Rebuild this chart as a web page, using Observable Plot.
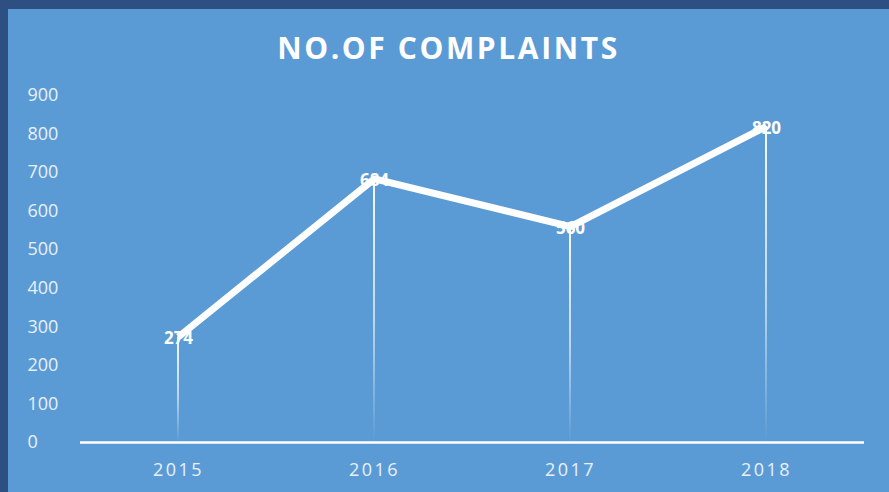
<!DOCTYPE html>
<html>
<head>
<meta charset="utf-8">
<script src="https://cdn.jsdelivr.net/npm/d3@7"></script>
<script src="https://cdn.jsdelivr.net/npm/@observablehq/plot@0.6"></script>
<style>
  html, body { margin: 0; padding: 0; }
  body { width: 889px; height: 492px; background: #2d4f82; position: relative; overflow: hidden; }
  #panel { position: absolute; left: 8px; top: 9px; width: 881px; height: 483px; background: #5b9bd5; }
  #title { position: absolute; left: 0; top: 20px; width: 881px; text-align: center;
           font-family: "Open Sans", sans-serif; font-weight: 700; font-size: 30px; letter-spacing: 2.6px;
           color: #ffffff; line-height: 38px; }
  #chart { position: absolute; left: 0; top: 75px; }
</style>
</head>
<body>
<div id="panel">
  <div id="title">NO.OF COMPLAINTS</div>
  <div id="chart"></div>
</div>
<script>
const years = ["2015", "2016", "2017", "2018"];
const complaints = [274, 684, 560, 820];
const yTicks = [0, 100, 200, 300, 400, 500, 600, 700, 800, 900];

const data = years.map((y, i) => ({year: y, value: complaints[i]}));

const plot = Plot.plot({
  width: 881,
  height: 408,
  marginLeft: 72,
  marginRight: 25,
  marginTop: 11,
  marginBottom: 50,
  style: {background: "transparent", overflow: "visible"},
  x: {type: "band", domain: years, padding: 0, axis: null},
  y: {domain: [0, 900], axis: null},
  marks: [
    Plot.barY(data, {x: "year", y: "value", fill: "url(#dropGrad)", insetLeft: 97, insetRight: 97}),
    Plot.ruleY([0], {stroke: "#ffffff", strokeWidth: 2.5}),
    Plot.text(yTicks, {y: d => d, text: d => String(d), frameAnchor: "left", dx: -53, textAnchor: "start",
      fill: "#e8f0fa", fontSize: 18, fontFamily: "Open Sans"}),
    Plot.text(years, {x: d => d, text: d => d, frameAnchor: "bottom", dy: 28, lineAnchor: "middle",
      fill: "#e8f0fa", fontSize: 18, fontFamily: "Open Sans"}),
    Plot.text(data, {x: "year", y: "value", text: d => String(d.value), fill: "#ffffff",
      fontSize: 17, fontWeight: "bold", fontFamily: "Open Sans", lineAnchor: "middle", dy: 2}),
    Plot.line(data, {x: "year", y: "value", stroke: "#ffffff", strokeWidth: 7, strokeLinejoin: "miter", strokeLinecap: "butt"})
  ]
});

// letter-spaced year labels
d3.select(plot).selectAll("text")
  .filter(function() { return years.includes(this.textContent); })
  .style("letter-spacing", "2.5px");

const ns = "http://www.w3.org/2000/svg";
const defs = document.createElementNS(ns, "defs");
const grad = document.createElementNS(ns, "linearGradient");
grad.setAttribute("id", "dropGrad");
grad.setAttribute("x1", "0"); grad.setAttribute("y1", "0");
grad.setAttribute("x2", "0"); grad.setAttribute("y2", "1");
[["0", 0.95], ["0.55", 0.6], ["1", 0]].forEach(([o, a]) => {
  const s = document.createElementNS(ns, "stop");
  s.setAttribute("offset", o);
  s.setAttribute("stop-color", "#ffffff");
  s.setAttribute("stop-opacity", a);
  grad.appendChild(s);
});
defs.appendChild(grad);
plot.insertBefore(defs, plot.firstChild);
document.getElementById("chart").appendChild(plot);
</script>
</body>
</html>
